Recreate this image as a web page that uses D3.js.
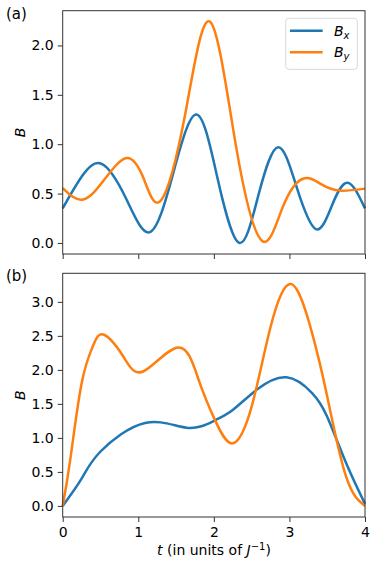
<!DOCTYPE html>
<html>
<head>
<meta charset="utf-8">
<script src="https://cdn.jsdelivr.net/npm/d3@7"></script>
<style>
  body { margin: 0; background: #fff; }
  text { font-family: "DejaVu Sans", sans-serif; fill: #000; }
</style>
</head>
<body>
<svg id="chart" width="376" height="565"></svg>
<script>
// panel (a): knots
const tA = [0, 0.25, 0.516, 0.835, 1.155, 1.46, 1.77, 2.05, 2.336, 2.59, 2.85, 3.1, 3.35, 3.56, 3.77, 4.0];
const bxA = [0.35, 0.67, 0.80, 0.455, 0.11, 0.70, 1.30, 0.65, 0.0, 0.485, 0.97, 0.555, 0.14, 0.375, 0.61, 0.35];
const tA2 = [0, 0.27, 0.56, 0.85, 1.075, 1.30, 1.62, 1.95, 2.3, 2.64, 2.91, 3.18, 3.43, 3.67, 4.0];
const byA = [0.555, 0.44, 0.65, 0.86, 0.645, 0.43, 1.30, 2.24, 0.95, 0.02, 0.36, 0.65, 0.59, 0.53, 0.55];

// panel (b)
const tB = [0, 0.25, 0.5, 1.09, 1.64, 2.0, 2.25, 2.57, 2.96, 3.3, 3.5, 3.75, 4.0];
const bxB = [0, 0.40, 0.80, 1.22, 1.15, 1.25, 1.41, 1.71, 1.89, 1.66, 1.31, 0.63, 0.03];
const tB2 = [0, 0.1, 0.25, 0.4, 0.54, 0.8, 1.07, 1.53, 1.8, 2.02, 2.25, 2.5, 2.75, 3.03, 3.3, 3.5, 3.75, 4.0];
const byB = [0, 0.68, 1.80, 2.35, 2.52, 2.2, 1.98, 2.33, 1.85, 1.25, 0.92, 1.46, 2.63, 3.26, 2.54, 1.61, 0.43, 0.0];

const xTicks = [0, 1, 2, 3, 4];
const yTicksA = [0, 0.5, 1.0, 1.5, 2.0];
const yTicksB = [0, 0.5, 1.0, 1.5, 2.0, 2.5, 3.0];

const blue = "#1f77b4", orange = "#ff7f0e";
const svg = d3.select("#chart");
const left = 62.7, right = 365;

const x = d3.scaleLinear().domain([0, 4]).range([left, right]);

function panel(top, bottom, yDomain, yTicks, series, label, showX) {
	const y = d3.scaleLinear().domain(yDomain).range([bottom, top]);
	const g = svg.append("g");

	const line = d3.line()
		.x(d => x(d[0]))
		.y(d => y(d[1]))
		.curve(d3.curveNatural);

	series.forEach(s => {
		g.append("path")
			.datum(d3.zip(s.t, s.v))
			.attr("fill", "none")
			.attr("stroke", s.color)
			.attr("stroke-width", 2.5)
			.attr("d", line);
	});

	// frame
	g.append("rect")
		.attr("x", left).attr("y", top)
		.attr("width", right - left).attr("height", bottom - top)
		.attr("fill", "none").attr("stroke", "#333").attr("stroke-width", 1);

	const yAxis = g.append("g")
		.attr("transform", `translate(${left},0)`)
		.call(d3.axisLeft(y).tickValues(yTicks).tickFormat(d3.format(".1f")).tickSize(5).tickPadding(4));
	yAxis.select(".domain").remove();
	yAxis.selectAll("line").attr("stroke", "#333");
	yAxis.selectAll("text").style("font-size", "14px").style("font-family", "DejaVu Sans");

	const xAxis = g.append("g")
		.attr("transform", `translate(0,${bottom})`)
		.call(d3.axisBottom(x).tickValues(xTicks).tickFormat(showX ? d3.format("d") : "").tickSize(5).tickPadding(5));
	xAxis.select(".domain").remove();
	xAxis.selectAll("line").attr("stroke", "#333");
	xAxis.selectAll("text").style("font-size", "14px").style("font-family", "DejaVu Sans");

	// y label
	g.append("text")
		.attr("transform", `translate(25,${(top + bottom) / 2}) rotate(-90)`)
		.attr("text-anchor", "middle")
		.style("font-size", "14px")
		.style("font-style", "italic")
		.text("B");

	g.append("text")
		.attr("x", 6).attr("y", top + 8)
		.style("font-size", "15px")
		.text(label);
	return g;
}

panel(10.7, 254, [-0.112, 2.352], yTicksA, [
	{ t: tA, v: bxA, color: blue },
	{ t: tA2, v: byA, color: orange }
], "(a)", false);

panel(273.3, 517, [-0.163, 3.42], yTicksB, [
	{ t: tB, v: bxB, color: blue },
	{ t: tB2, v: byB, color: orange }
], "(b)", true);

// legend
const lg = svg.append("g");
lg.append("rect")
	.attr("x", 285.7).attr("y", 18.3).attr("width", 71.6).attr("height", 51)
	.attr("rx", 3).attr("fill", "#fff").attr("fill-opacity", 0.8)
	.attr("stroke", "#d9d9d9").attr("stroke-width", 1);
[["x", blue, 30.7], ["y", orange, 52.3]].forEach(([sub, c, yy]) => {
	lg.append("line").attr("x1", 290).attr("x2", 322.7).attr("y1", yy).attr("y2", yy)
		.attr("stroke", c).attr("stroke-width", 2.5);
	const t = lg.append("text").attr("x", 334).attr("y", yy + 5).style("font-size", "14px").style("font-style", "italic");
	t.append("tspan").text("B");
	t.append("tspan").attr("dy", 3).style("font-size", "10px").text(sub);
});

// x label
const xl = svg.append("text")
	.attr("x", 214).attr("y", 555)
	.attr("text-anchor", "middle")
	.style("font-size", "14px");
xl.append("tspan").style("font-style", "italic").text("t");
xl.append("tspan").text(" (in units of ");
xl.append("tspan").style("font-style", "italic").text("J");
xl.append("tspan").attr("dy", -5).style("font-size", "10px").text("\u22121");
xl.append("tspan").attr("dy", 5).text(")");
</script>
</body>
</html>
